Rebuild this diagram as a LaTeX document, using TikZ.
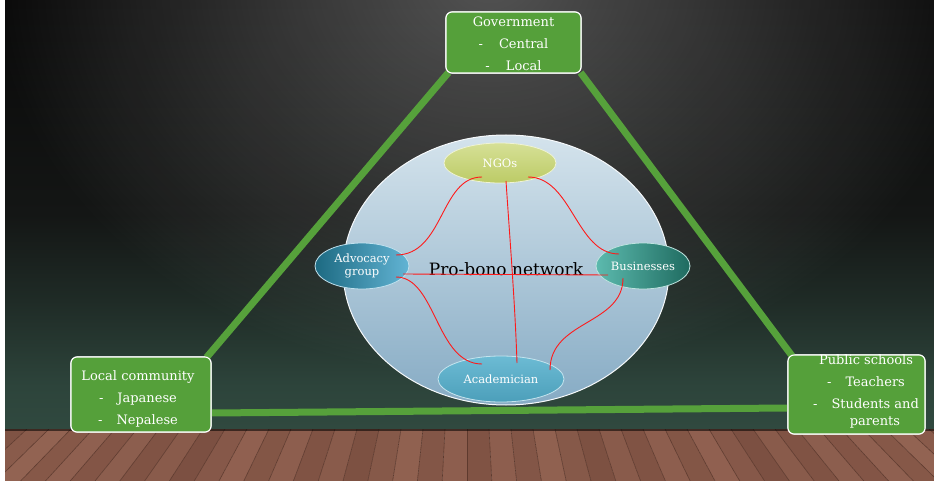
\documentclass[tikz,border=0pt]{standalone}
\usepackage{fontspec}
\setmainfont{DejaVu Serif}
\usetikzlibrary{shapes.geometric,calc,fadings}

\definecolor{boxgreen}{HTML}{55A03A}
\definecolor{linkgreen}{HTML}{56A13B}
\definecolor{linkred}{HTML}{FF1A1A}
\definecolor{woodA}{HTML}{966655}
\definecolor{woodB}{HTML}{74493B}
\definecolor{woodLine}{HTML}{5E3A2E}
\definecolor{netTop}{HTML}{D4E3EC}
\definecolor{netBot}{HTML}{86ABC4}
\definecolor{ngoTop}{HTML}{D6E096}
\definecolor{ngoBot}{HTML}{BCCB66}
\definecolor{advL}{HTML}{1D6A82}
\definecolor{advR}{HTML}{62B4D4}
\definecolor{busL}{HTML}{5CBAAE}
\definecolor{busR}{HTML}{1F6B60}
\definecolor{acaTop}{HTML}{6CBBD4}
\definecolor{acaBot}{HTML}{4C9FBA}

% wall: near black at the top, dark green towards the floor
% (the filled path spans 25bp..75bp of the shading)
\pgfdeclareverticalshading{wallshade}{100bp}{
  color(0bp)=(rgb,255:red,48;green,73;blue,63);
  color(25bp)=(rgb,255:red,48;green,73;blue,63);
  color(30bp)=(rgb,255:red,45;green,68;blue,59);
  color(40bp)=(rgb,255:red,31;green,43;blue,38);
  color(50bp)=(rgb,255:red,20;green,22;blue,21);
  color(75bp)=(rgb,255:red,9;green,9;blue,9);
  color(100bp)=(rgb,255:red,9;green,9;blue,9)}

\tikzfading[name=spotfade, inner color=transparent!0, outer color=transparent!100]

\begin{document}
\begin{tikzpicture}[x=1pt,y=-1pt,
  greenbox/.style={rectangle, rounded corners=6pt, fill=boxgreen, draw=white,
    line width=1.1pt, inner sep=0pt},
  boxtext/.style={text=white, align=center, inner sep=0pt,
    font=\fontsize{13}{22}\selectfont},
  member/.style={ellipse, inner sep=0pt, text=white, align=center,
    line width=0.8pt, font=\fontsize{11.5}{13}\selectfont},
  tie/.style={linkgreen, line width=7pt},
  rel/.style={linkred, line width=0.9pt}]

\useasboundingbox (0,0) rectangle (934,481);

% page margin and wall
\fill[white] (0,0) rectangle (934,481);
\shade[shading=wallshade] (5,0) rectangle (934,429);
\begin{scope}
  \clip (5,0) rectangle (934,429);
  \fill[white, fill opacity=0.30, path fading=spotfade]
    (490,-20) ellipse [x radius=500, y radius=400];
\end{scope}

% wooden floor
\begin{scope}
  \clip (5,429) rectangle (934,481);
  \foreach \k in {-22,...,21} {
    \pgfmathtruncatemacro{\pct}{25+mod(abs(\k)*37+11,65)}
    \fill[woodA!\pct!woodB]
      (467+22*\k,429) -- (467+22*\k+22,429) --
      (467+24.8*\k+24.8,481) -- (467+24.8*\k,481) -- cycle;
    \draw[woodLine, line width=0.6pt] (467+22*\k,429) -- (467+24.8*\k,481);
  }
  \fill[black, opacity=0.55] (5,428) rectangle (934,431);
\end{scope}

% boxes of the three sectors
\node[greenbox, minimum width=135pt, minimum height=61pt] (gov) at (513.5,42.5) {};
\node[greenbox, minimum width=140pt, minimum height=75pt] (local) at (141,394.5) {};
\node[greenbox, minimum width=137pt, minimum height=79pt] (pub) at (856.5,394.5) {};

% triangle links
\draw[tie] ($(gov.south west)+(3,-1)$) -- ($(local.north east)+(-5,1)$);
\draw[tie] ($(gov.south east)+(-1,-1)$) -- ($(pub.north west)+(5,2)$);
\draw[tie] ($(local.east)+(0,18.5)$) -- ($(pub.west)+(0,13.5)$);

% boxes again, over the link ends
\node[greenbox, minimum width=135pt, minimum height=61pt] at (gov) {};
\node[greenbox, minimum width=140pt, minimum height=75pt] at (local) {};
\node[greenbox, minimum width=137pt, minimum height=79pt] at (pub) {};

\node[boxtext] (govtext) at ($(gov.center)+(0,1.5)$)
  {Government\\-\hspace{16pt}Central\\-\hspace{16pt}Local};
\node[boxtext] (localtext) at ($(local.center)+(-3,4.5)$)
  {Local community\\-\hspace{14pt}Japanese\\-\hspace{14pt}Nepalese};
\node[boxtext] (pubtext) at ($(pub.center)+(9.5,-3.5)$)
  {Public schools\\-\hspace{14pt}Teachers\\-\hspace{14pt}Students and\\[-5pt]
   \hspace{18pt}parents};

% pro-bono network bubble
\node[ellipse, inner sep=0pt, minimum width=326pt, minimum height=270pt,
  top color=netTop, bottom color=netBot, draw=white!80!netTop, line width=1pt,
  font=\fontsize{17}{20}\selectfont] (net) at (506,270)
  {\raisebox{2pt}{Pro-bono network}};

% members
\node[member, minimum width=112pt, minimum height=40pt,
  top color=ngoTop, bottom color=ngoBot, draw=white!60!ngoTop] (ngo) at (500,163) {NGOs};
\node[member, minimum width=94pt, minimum height=46pt,
  left color=advL, right color=advR, draw=white!60!advR] (adv) at (362,266)
  {Advocacy\\group};
\node[member, minimum width=94pt, minimum height=46pt,
  left color=busL, right color=busR, draw=white!60!busL] (bus) at (643,266) {Businesses};
\node[member, minimum width=126pt, minimum height=46pt,
  top color=acaTop, bottom color=acaBot, draw=white!60!acaTop] (aca) at (501,379)
  {Academician};

% relations
\draw[rel] ($(ngo.center)+(-18,14)$) .. controls +(-42,0) and +(48,0) ..
  ($(adv.center)+(34,-11)$);
\draw[rel] ($(ngo.center)+(28,14)$) .. controls +(44,0) and +(-43,0) ..
  ($(bus.center)+(-24,-12)$);
\draw[rel] ($(ngo.center)+(6,18)$) .. controls +(4,60) and +(-2,-60) ..
  ($(aca.center)+(16,-16)$);
\draw[rel] ($(adv.center)+(41,8)$) -- ($(bus.center)+(-35,9)$);
\draw[rel] ($(adv.center)+(34,11)$) .. controls +(40,0) and +(-46,0) ..
  ($(aca.center)+(-19,-15)$);
\draw[rel] ($(bus.center)+(-20,12)$) .. controls +(0,47) and +(0,-50) ..
  ($(aca.center)+(49,-9)$);
\end{tikzpicture}
\end{document}
